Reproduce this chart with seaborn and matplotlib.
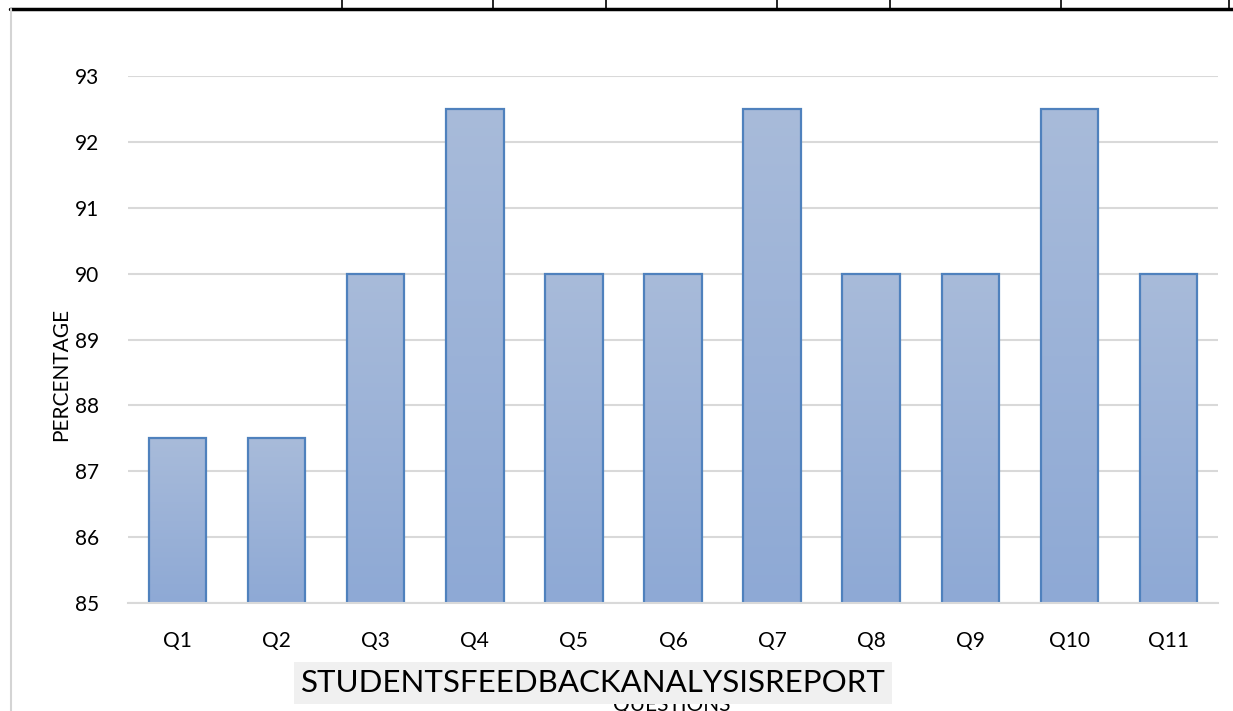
import matplotlib
matplotlib.use("Agg")
import matplotlib.pyplot as plt
import seaborn as sns
import numpy as np
import pandas as pd
from matplotlib.lines import Line2D
from matplotlib.colors import LinearSegmentedColormap

questions = ["Q1", "Q2", "Q3", "Q4", "Q5", "Q6", "Q7", "Q8", "Q9", "Q10", "Q11"]
percentages = [87.5, 87.5, 90, 92.5, 90, 90, 92.5, 90, 90, 92.5, 90]
y_ticks = [85, 86, 87, 88, 89, 90, 91, 92, 93]
title_text = "STUDENTSFEEDBACKANALYSISREPORT"
x_label = "QUESTIONS"
y_label = "PERCENTAGE"

sns.set_theme(style="white")
plt.rcParams['font.family'] = ['Lato', 'DejaVu Sans']

W, H = 1233, 711
fig = plt.figure(figsize=(W / 100, H / 100), dpi=100)
ax = fig.add_axes([128 / W, (H - 603) / H, 1090 / W, 527 / H])

df = pd.DataFrame({"q": questions, "p": percentages})
sns.barplot(data=df, x="q", y="p", ax=ax, color="#97afd6", width=0.58,
            edgecolor="#4f81bd", linewidth=1.6, zorder=3)

ax.set_ylim(85, 93)
ax.set_xlim(-0.5, len(questions) - 0.5)
ax.set_yticks(y_ticks)
ax.set_yticklabels([str(t) for t in y_ticks])

# gradient fill for bars
cmap = LinearSegmentedColormap.from_list("g", ["#8ea9d5", "#a8bbda"])
grad = np.linspace(0, 1, 256).reshape(-1, 1)
for patch in ax.patches:
    x0 = patch.get_x()
    w = patch.get_width()
    top = patch.get_y() + patch.get_height()
    bottom = max(patch.get_y(), 85)
    im = ax.imshow(grad, extent=[x0, x0 + w, bottom, top], origin="lower",
                   cmap=cmap, aspect="auto", zorder=3.5, interpolation="bicubic")
    im.set_clip_path(patch)
    patch.set_facecolor("none")
    patch.set_zorder(4)
ax.set_xlim(-0.5, len(questions) - 0.5)
ax.set_ylim(85, 93)

ax.yaxis.grid(True, color="#d9d9d9", linewidth=1.5, zorder=0)
ax.set_axisbelow(True)
for s in ["top", "right", "left"]:
    ax.spines[s].set_visible(False)
ax.spines["bottom"].set_color("#d9d9d9")
ax.spines["bottom"].set_linewidth(1.5)
ax.spines["bottom"].set_zorder(5)
ax.tick_params(axis="both", length=0, labelsize=15, colors="#000000")
ax.tick_params(axis="y", pad=21)
ax.tick_params(axis="x", pad=20)
ax.set_xlabel("")
ax.set_ylabel("")

fig.text(61 / W, (H - 374) / H, y_label, rotation=90, ha="center", va="center",
         fontsize=15, color="#000000")
fig.text(672 / W, (H - 695) / H, x_label, ha="center", va="top",
         fontsize=15, color="#000000", zorder=1)
fig.text(593 / W, (H - 683) / H, title_text, ha="center", va="center",
         fontsize=22.5, color="#000000", zorder=10,
         bbox=dict(facecolor="#f0f0f0", edgecolor="none", pad=5))

# document table lines at top and left border
fig.add_artist(Line2D([10 / W, 1], [(H - 9) / H] * 2, color="black", linewidth=2.5,
                      transform=fig.transFigure))
for xv in [342, 493, 606, 777, 890, 1061, 1229]:
    fig.add_artist(Line2D([xv / W] * 2, [(H - 9) / H, 1], color="black", linewidth=1.2,
                          transform=fig.transFigure))
fig.add_artist(Line2D([11 / W] * 2, [0, (H - 9) / H], color="#d4d4d4", linewidth=1.5,
                      transform=fig.transFigure))

fig.savefig("out.png", dpi=100)
